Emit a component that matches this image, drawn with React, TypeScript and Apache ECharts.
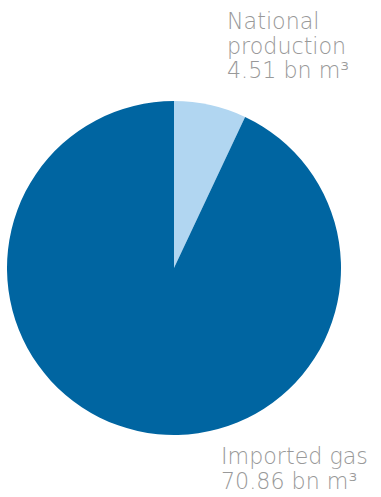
import React, { useEffect, useRef } from "react";
import * as echarts from "echarts";

const categories = ["National production", "Imported gas"];
const labelLines = [
  ["National", "production", "4.51 bn m³"],
  ["Imported gas", "70.86 bn m³"],
];
// slice shares as they appear in the picture (angle of the light slice ~25°)
const sliceValues = [7.0, 93.0];
const colors = ["#b1d6f1", "#0065a1"];

export default function App() {
  const ref = useRef<HTMLDivElement>(null);
  useEffect(() => {
    document.body.style.margin = "0";
    const chart = echarts.init(ref.current!, undefined, { renderer: "svg" });
    const textStyleBase = {
      fill: "#999999",
      fontSize: 22.2,
      fontWeight: 200,
      fontFamily: "'DejaVu Sans', sans-serif",
      lineHeight: 24.5,
    };
    chart.setOption({
      animation: false,
      series: [
        {
          type: "pie",
          center: [174, 268],
          radius: 167,
          startAngle: 90,
          clockwise: true,
          label: { show: false },
          labelLine: { show: false },
          emphasis: { disabled: true },
          data: categories.map((name, i) => ({
            name,
            value: sliceValues[i],
            itemStyle: { color: colors[i] },
          })),
        },
      ],
      graphic: [
        {
          type: "text",
          left: 227,
          top: 9,
          style: { ...textStyleBase, text: labelLines[0].join("\n") },
        },
        {
          type: "text",
          left: 221,
          top: 444,
          style: { ...textStyleBase, text: labelLines[1].join("\n") },
        },
      ],
    });
    return () => chart.dispose();
  }, []);
  return <div ref={ref} style={{ width: 381, height: 497 }} />;
}
